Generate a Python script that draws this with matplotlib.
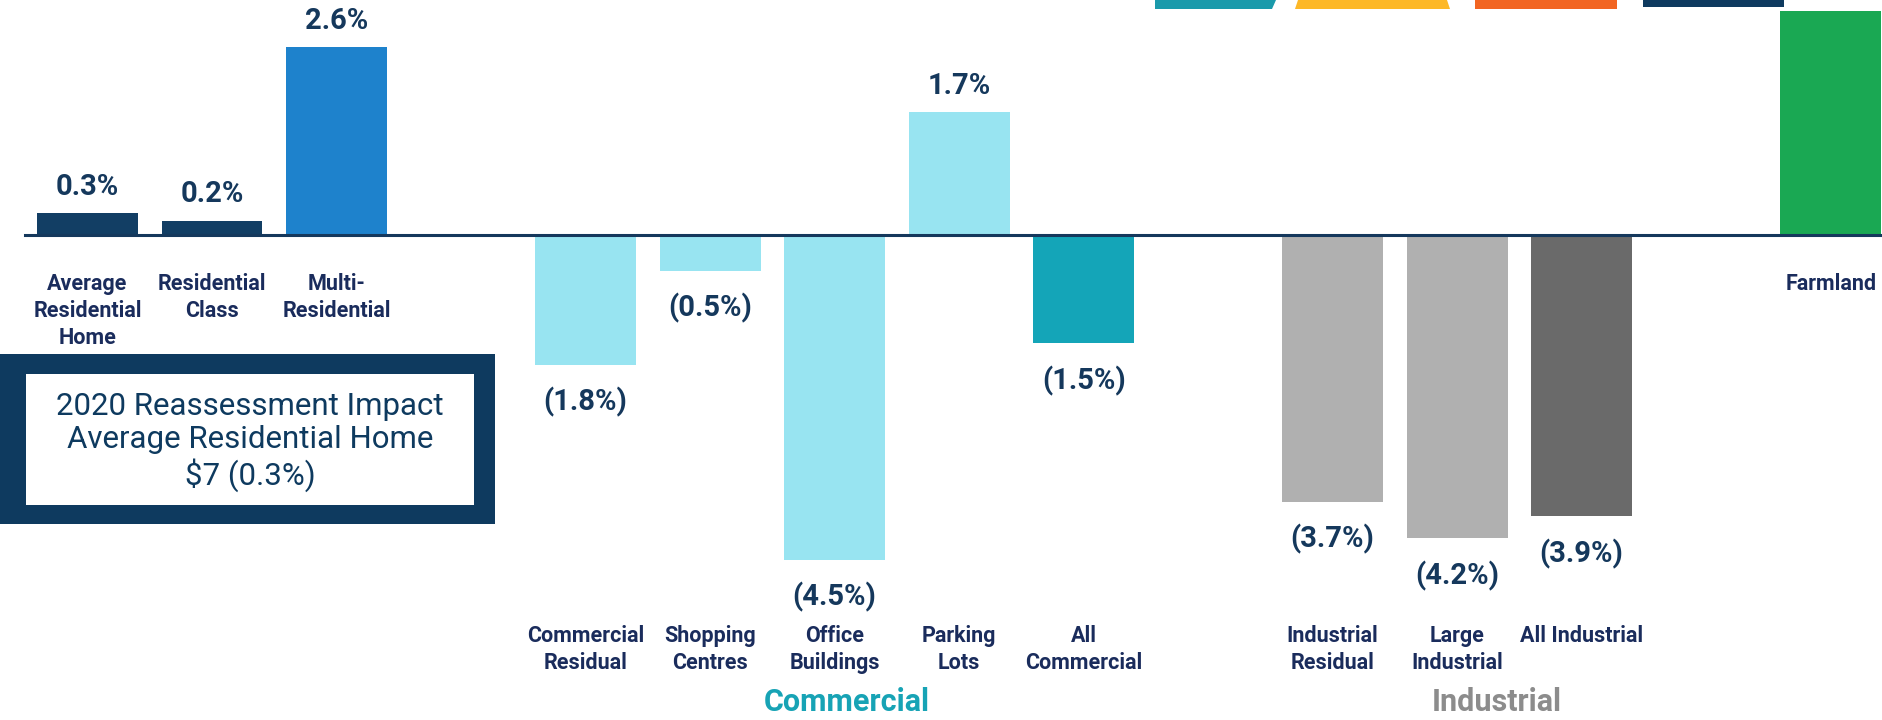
"""2020 reassessment impact by property class, recreated as a bar chart."""

import matplotlib.pyplot as plt
from matplotlib.patches import Polygon, Rectangle

plt.rcParams["font.family"] = ["Roboto", "DejaVu Sans"]

CATEGORIES = [
    "Average\nResidential\nHome", "Residential\nClass", "Multi-\nResidential",
    "Commercial\nResidual", "Shopping\nCentres", "Office\nBuildings", "Parking\nLots", "All\nCommercial",
    "Industrial\nResidual", "Large\nIndustrial", "All Industrial",
    "Farmland",
]
VALUES = [0.3, 0.2, 2.6, -1.8, -0.5, -4.5, 1.7, -1.5, -3.7, -4.2, -3.9, 3.1]
GROUP_SIZES = [3, 5, 3, 1]
GROUP_NAMES = ["", "Commercial", "Industrial", ""]
GROUP_COLORS = ["", "#17a3b5", "#8c8c8c", ""]
COLORS = [
    "#123e64", "#123e64", "#1e82cc",
    "#98e4f1", "#98e4f1", "#98e4f1", "#98e4f1", "#14a5b8",
    "#b0b0b0", "#b0b0b0", "#6a6a6a",
    "#1aa853",
]
BOX_LINES = ["2020 Reassessment Impact", "Average Residential Home", "$7 (0.3%)"]

NAVY = "#15385c"
LABEL_NAVY = "#1a2c5c"
Y_TOP, Y_BOTTOM = 3.255, -6.72

# slot positions: groups separated by one empty slot
positions = []
group_of = []
group_centres = []
slot = 0
for g, size in enumerate(GROUP_SIZES):
    group_centres.append(slot + (size - 1) / 2)
    positions.extend(range(slot, slot + size))
    group_of.extend([g] * size)
    slot += size + 1

fig = plt.figure(figsize=(18.83, 7.2), dpi=100)
ax = fig.add_axes([0, 0, 1, 1])
ax.set_xlim(-0.703, 14.42)
ax.set_ylim(Y_BOTTOM, Y_TOP)
ax.axis("off")

ax.bar(positions, VALUES, width=0.81, color=COLORS, zorder=2)
ax.plot([-0.5, 14.5], [0, 0], color=NAVY, linewidth=2.2, zorder=3)

for x, v, name, g in zip(positions, VALUES, CATEGORIES, group_of):
    if v >= 0:
        if v + 0.6 < Y_TOP:  # farmland's value label sits above the crop
            ax.text(x, v + 0.17, f"{v:.1f}%", ha="center", va="bottom",
                    fontsize=21, fontweight="bold", color=NAVY)
    else:
        ax.text(x, v - 0.31, f"({-v:.1f}%)", ha="center", va="top",
                fontsize=21, fontweight="bold", color=NAVY)
    # commercial / industrial names sit in a row near the bottom
    label_y = -5.4 if GROUP_NAMES[g] else -0.53
    ax.text(x, label_y, name, ha="center", va="top", fontsize=15.5,
            fontweight="bold", color=LABEL_NAVY, linespacing=1.3)

group_shift = [0, 0.1, 0.32, 0]
for centre, gname, gcol, dx in zip(group_centres, GROUP_NAMES, GROUP_COLORS, group_shift):
    if gname:
        ax.text(centre + dx, -6.47, gname, ha="center", va="center",
                fontsize=22, fontweight="bold", color=gcol)

# summary box on the left
fig.patches.append(Rectangle((0, 0.272), 0.263, 0.236, transform=fig.transFigure,
                             facecolor="#0e3a5f", edgecolor="none"))
fig.patches.append(Rectangle((0.0138, 0.2986), 0.2379, 0.182, transform=fig.transFigure,
                             facecolor="white", edgecolor="none"))
fig.text(0.1328, 0.386, "\n".join(BOX_LINES), ha="center", va="center",
         fontsize=22.5, color="#0e3a5f", linespacing=1.17)

# header stripes cut off at the top edge
W, H = 1883, 720
stripes = [
    ("#1a9aab", [(1155, 720), (1276, 720), (1272, 711), (1155, 711)]),
    ("#fdb827", [(1298, 720), (1447, 720), (1450, 711), (1295, 711)]),
    ("#f26522", [(1475, 720), (1617, 720), (1617, 711), (1475, 711)]),
    ("#0e3a5f", [(1643, 720), (1784, 720), (1784, 713), (1643, 713)]),
]
for color, pts in stripes:
    fig.patches.append(Polygon([(px / W, py / H) for px, py in pts], closed=True,
                               transform=fig.transFigure, facecolor=color, edgecolor="none"))

fig.savefig("out.png", dpi=100)
